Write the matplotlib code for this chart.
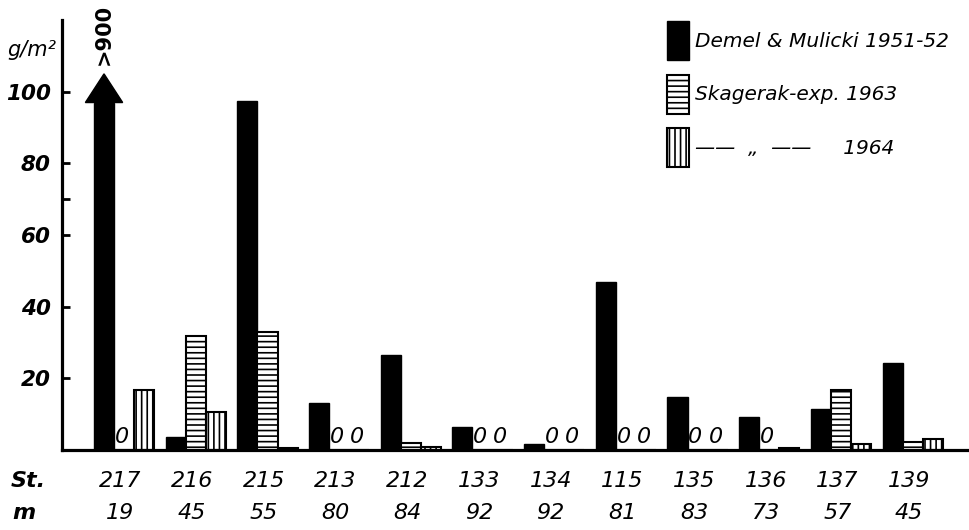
import matplotlib
matplotlib.use("Agg")
import matplotlib.pyplot as plt
import numpy as np
from matplotlib.patches import Patch, Polygon

# stations, depth (m) and biomass g/m2 per survey
stations = ["217", "216", "215", "213", "212", "133", "134", "115", "135", "136", "137", "139"]
depths = [19, 45, 55, 80, 84, 92, 92, 81, 83, 73, 57, 45]
demel = [900, 3.6, 97.5, 13, 26.4, 6.5, 1.7, 47, 14.7, 9.2, 11.4, 24.2]
skag63 = [0, 31.7, 33, 0, 2, 0, 0, 0, 0, 0, 16.7, 2.2]
skag64 = [16.7, 10.6, 0.6, 0, 0.8, 0, 0, 0, 0, 0.5, 1.7, 3]
labels = ["Demel & Mulicki 1951-52", "Skagerak-exp. 1963", "——  „  ——     1964"]

plt.rcParams["font.family"] = ["DejaVu Sans"]
plt.rcParams["hatch.linewidth"] = 1.2

fig = plt.figure(figsize=(9.7, 5.3), dpi=100)
ax = fig.add_axes([0.064, 0.151, 0.936, 0.811])

x = np.arange(len(stations))
w = 0.28
ytop = 120
clip = 97  # off-scale bar body stops here, arrow head above

heights = [clip if v > ytop else v for v in demel]
ax.bar(x - w, heights, w, color="black", edgecolor="black", linewidth=1)
ax.bar(x, skag63, w, color="white", edgecolor="black", linewidth=1.5, hatch="---")
ax.bar(x + w, skag64, w, color="white", edgecolor="black", linewidth=1.5, hatch="|||")

for xi, v in zip(x, demel):
    if v > ytop:
        cx = xi - w
        ax.add_patch(Polygon([[cx - 0.26, clip], [cx + 0.26, clip], [cx, clip + 8]],
                             closed=True, color="black", clip_on=False))
        ax.text(cx, clip + 19, f">{v}", rotation=90, ha="center", va="center",
                fontsize=15, fontweight="bold", clip_on=False)

for series, off in [(skag63, 0), (skag64, w)]:
    for xi, v in zip(x, series):
        if v == 0:
            ax.text(xi + off - 0.03, 0.8, "0", ha="center", va="bottom",
                    fontsize=16, style="italic")

ax.set_xlim(-0.865, 11.8)
ax.set_ylim(0, ytop)
ax.set_yticks([20, 40, 60, 70, 80, 100])
ax.set_yticklabels(["20", "40", "60", "", "80", "100"])
ax.tick_params(axis="y", direction="in", length=6, width=2, pad=8,
               labelsize=15.5)
for t in ax.get_yticklabels():
    t.set_fontweight("bold")
    t.set_style("italic")
ax.set_xticks([])
for s in ["top", "right"]:
    ax.spines[s].set_visible(False)
ax.spines["left"].set_linewidth(2.3)
ax.spines["bottom"].set_linewidth(2.3)

trans = ax.get_xaxis_transform()
for xi, st, m in zip(x, stations, depths):
    ax.text(xi - 0.05, -0.072, st, transform=trans, ha="center", va="center",
            fontsize=16, style="italic")
    ax.text(xi - 0.05, -0.147, str(m), transform=trans, ha="center", va="center",
            fontsize=16, style="italic")
fig.text(0.029, 1 - 481 / 530, "St.", ha="center", va="center", fontsize=16,
         fontweight="bold", style="italic")
fig.text(0.025, 1 - 513 / 530, "m", ha="center", va="center", fontsize=16,
         fontweight="bold", style="italic")
fig.text(0.033, 0.905, "g/m²", ha="center", va="center", fontsize=15,
         style="italic")

handles = [Patch(facecolor="black", edgecolor="black"),
           Patch(facecolor="white", edgecolor="black", hatch="---", linewidth=1.5),
           Patch(facecolor="white", edgecolor="black", hatch="|||", linewidth=1.5)]
leg = fig.legend(handles, labels, loc="upper left", bbox_to_anchor=(0.688, 0.96),
                 frameon=False, borderpad=0, borderaxespad=0, handlelength=1.05,
                 handleheight=2.6, handletextpad=0.3, labelspacing=0.72,
                 prop={"size": 14.5, "style": "italic"})

fig.savefig("out.png", dpi=100)
